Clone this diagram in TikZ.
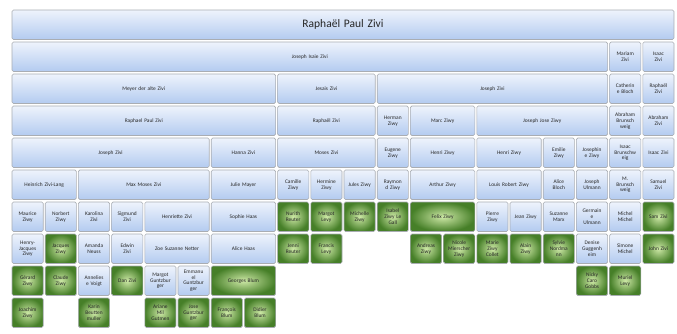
\documentclass[tikz,border=0pt]{standalone}
\usepackage{fontspec}
\setmainfont{Carlito}
\usepackage{tikz}
\usetikzlibrary{backgrounds,calc}
\definecolor{bluetop}{HTML}{EEF3FC}
\definecolor{bluebot}{HTML}{B3CBF0}
\definecolor{greenin}{HTML}{CDE8A6}
\definecolor{greenout}{HTML}{467F28}
\definecolor{boxline}{HTML}{A9ADB3}
\definecolor{nametext}{HTML}{262626}
\tikzset{
  person/.style={draw=boxline, line width=0.6pt, rounded corners=1.5pt,
    align=center, inner sep=0pt, text=nametext,
    font=\fontsize{5.4}{5.9}\selectfont},
  blue/.style={person, top color=bluetop, bottom color=bluebot},
  green/.style={person, inner color=greenin, outer color=greenout}
}
% one cell of the chart: row, first column, last column, style, name
\newcommand{\personbox}[5]{%
  \pgfmathsetmacro{\cxa}{12+33.2*#2}%
  \pgfmathsetmacro{\cxb}{12+33.2*(#3+1)-2}%
  \pgfmathsetmacro{\cxm}{(\cxa+\cxb)/2}%
  \pgfmathsetmacro{\cw}{\cxb-\cxa}%
  \pgfmathsetmacro{\ctw}{\cxb-\cxa-2}%
  \pgfmathsetmacro{\cym}{-(10+32*#1+14.75)}%
  \node[#4, minimum width=\cw pt, minimum height=29.5pt, text width=\ctw pt]
    (c-#1-#2) at (\cxm,\cym) {#5};}

\begin{document}
\begin{tikzpicture}[x=1pt,y=1pt]
\useasboundingbox[fill=white] (0,0) rectangle (677,-333);
% generation 0 and 1
\personbox{0}{0}{19}{blue,font=\fontsize{11.5}{13}\selectfont}{Raphaël Paul Zivi}
\personbox{1}{0}{17}{blue}{Joseph Isaie Zivi}
\personbox{1}{18}{18}{blue}{Mariam\\Zivi}
\personbox{1}{19}{19}{blue}{Isaac\\Zivi}
% generation 2
\personbox{2}{0}{7}{blue}{Meyer der alte Zivi}
\personbox{2}{8}{10}{blue}{Jesais Zivi}
\personbox{2}{11}{17}{blue}{Joseph Zivi}
\personbox{2}{18}{18}{blue}{Catherin\\e Bloch}
\personbox{2}{19}{19}{blue}{Raphaël\\Zivi}
% generation 3
\personbox{3}{0}{7}{blue}{Raphael Paul Zivi}
\personbox{3}{8}{10}{blue}{Raphaël Zivi}
\personbox{3}{11}{11}{blue}{Herman\\Ziwy}
\personbox{3}{12}{13}{blue}{Marc Ziwy}
\personbox{3}{14}{17}{blue}{Joseph Jose Ziwy}
\personbox{3}{18}{18}{blue}{Abraham\\Brunsch\\weig}
\personbox{3}{19}{19}{blue}{Abraham\\Zivi}
% generation 4
\personbox{4}{0}{5}{blue}{Joseph Zivi}
\personbox{4}{6}{7}{blue}{Hanna Zivi}
\personbox{4}{8}{10}{blue}{Moses Zivi}
\personbox{4}{11}{11}{blue}{Eugene\\Ziwy}
\personbox{4}{12}{13}{blue}{Henri Ziwy}
\personbox{4}{14}{15}{blue}{Henri Ziwy}
\personbox{4}{16}{16}{blue}{Emilie\\Ziwy}
\personbox{4}{17}{17}{blue}{Josephin\\e Ziwy}
\personbox{4}{18}{18}{blue}{Isaac\\Brunschw\\eig}
\personbox{4}{19}{19}{blue}{Isaac Zivi}
% generation 5
\personbox{5}{0}{1}{blue}{Heinrich Zivi-Lang}
\personbox{5}{2}{5}{blue}{Max Moses Zivi}
\personbox{5}{6}{7}{blue}{Julie Mayer}
\personbox{5}{8}{8}{blue}{Camille\\Ziwy}
\personbox{5}{9}{9}{blue}{Hermine\\Ziwy}
\personbox{5}{10}{10}{blue}{Jules Ziwy}
\personbox{5}{11}{11}{blue}{Raymon\\d Ziwy}
\personbox{5}{12}{13}{blue}{Arthur Ziwy}
\personbox{5}{14}{15}{blue}{Louis Robert Ziwy}
\personbox{5}{16}{16}{blue}{Alice\\Bloch}
\personbox{5}{17}{17}{blue}{Joseph\\Ulmann}
\personbox{5}{18}{18}{blue}{M.\\Brunsch\\weig}
\personbox{5}{19}{19}{blue}{Samuel\\Zivi}
% generation 6
\personbox{6}{0}{0}{blue}{Maurice\\Ziwy}
\personbox{6}{1}{1}{blue}{Norbert\\Ziwy}
\personbox{6}{2}{2}{blue}{Karolina\\Zivi}
\personbox{6}{3}{3}{blue}{Sigmund\\Zivi}
\personbox{6}{4}{5}{blue}{Henriette Zivi}
\personbox{6}{6}{7}{blue}{Sophie Haas}
\personbox{6}{8}{8}{green}{Nurith\\Reuter}
\personbox{6}{9}{9}{green}{Margot\\Levy}
\personbox{6}{10}{10}{green}{Michelle\\Ziwy}
\personbox{6}{11}{11}{green}{Isabel\\Ziwy Le\\Gall}
\personbox{6}{12}{13}{green}{Felix Ziwy}
\personbox{6}{14}{14}{blue}{Pierre\\Ziwy}
\personbox{6}{15}{15}{blue}{Jean Ziwy}
\personbox{6}{16}{16}{blue}{Suzanne\\Marx}
\personbox{6}{17}{17}{blue}{Germain\\e\\Ulmann}
\personbox{6}{18}{18}{blue}{Michel\\Michel}
\personbox{6}{19}{19}{green}{Sam Zivi}
% generation 7
\personbox{7}{0}{0}{blue}{Henry-\\Jacques\\Ziwy}
\personbox{7}{1}{1}{green}{Jacques\\Ziwy}
\personbox{7}{2}{2}{blue}{Amanda\\Neuss}
\personbox{7}{3}{3}{blue}{Edwin\\Zivi}
\personbox{7}{4}{5}{blue}{Zoe Suzanne Netter}
\personbox{7}{6}{7}{blue}{Alice Haas}
\personbox{7}{8}{8}{green}{Jenni\\Reuter}
\personbox{7}{9}{9}{green}{Francis\\Levy}
\personbox{7}{12}{12}{green}{Andreas\\Ziwy}
\personbox{7}{13}{13}{green}{Nicole\\Mierscher\\Ziwy}
\personbox{7}{14}{14}{green}{Marie\\Ziwy\\Collet}
\personbox{7}{15}{15}{green}{Alain\\Ziwy}
\personbox{7}{16}{16}{green}{Sylvie\\Nordma\\nn}
\personbox{7}{17}{17}{blue}{Denise\\Guggenh\\eim}
\personbox{7}{18}{18}{blue}{Simone\\Michel}
\personbox{7}{19}{19}{green}{John Zivi}
% generation 8
\personbox{8}{0}{0}{green}{Gérard\\Ziwy}
\personbox{8}{1}{1}{green}{Claude\\Ziwy}
\personbox{8}{2}{2}{blue}{Annelies\\e Voigt}
\personbox{8}{3}{3}{green}{Dan Zivi}
\personbox{8}{4}{4}{blue}{Margot\\Guntzbur\\ger}
\personbox{8}{5}{5}{blue}{Emmanu\\el\\Guntzbur\\ger}
\personbox{8}{6}{7}{green}{Georges Blum}
\personbox{8}{17}{17}{green}{Nicky\\Caro\\Gobbs}
\personbox{8}{18}{18}{green}{Muriel\\Levy}
% generation 9
\personbox{9}{0}{0}{green}{Joachim\\Ziwy}
\personbox{9}{2}{2}{green}{Karin\\Beutten\\muller}
\personbox{9}{4}{4}{green}{Ariane\\Mil\\Gutmen}
\personbox{9}{5}{5}{green}{Jose\\Guntzbur\\ger}
\personbox{9}{6}{6}{green}{François\\Blum}
\personbox{9}{7}{7}{green}{Didier\\Blum}
\end{tikzpicture}
\end{document}
